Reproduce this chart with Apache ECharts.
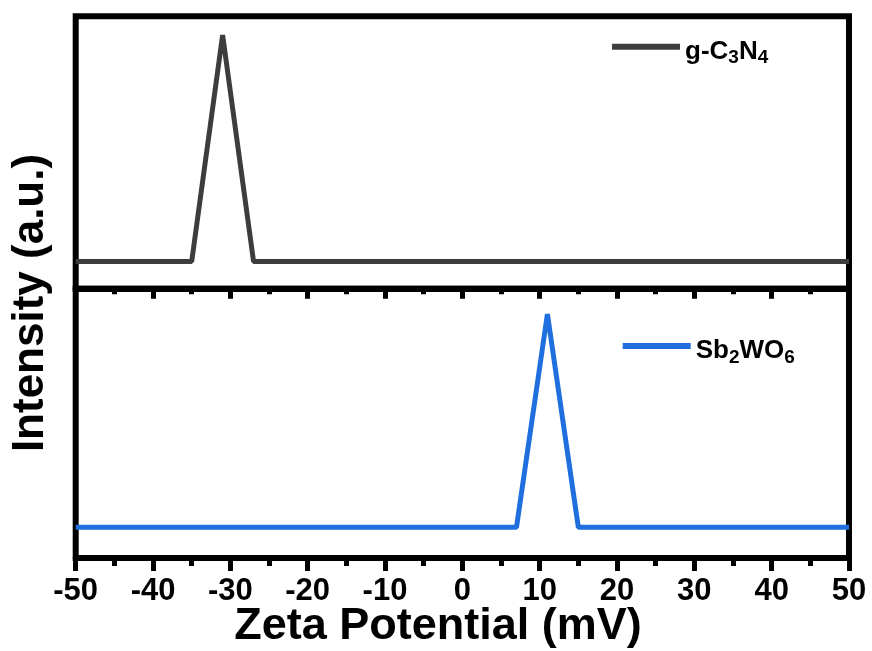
<!DOCTYPE html>
<html><head><meta charset="utf-8">
<script src="https://cdn.jsdelivr.net/npm/echarts@6/dist/echarts.min.js"></script>
<style>html,body{margin:0;padding:0;background:#fff}#c{width:872px;height:651px}</style>
</head><body><div id="c"></div>
<script>
// ---- data ----
const xTickLabels = [-50, -40, -30, -20, -10, 0, 10, 20, 30, 40, 50];
const seriesNames = ['g-C3N4', 'Sb2WO6'];
const gc3n4X = [-50, -35, -31, -27, 50];
const gc3n4Y = [0, 0, 1, 0, 0];
const sb2wo6X = [-50, 7, 11, 15, 50];
const sb2wo6Y = [0, 0, 1, 0, 0];
const xAxisTitle = 'Zeta Potential (mV)';
const yAxisTitle = 'Intensity (a.u.)';

const FONT = '"Liberation Sans", Arial, Helvetica, sans-serif';
const colors = ['#3d3d3d', '#1f6fdf'];

const gridL = 75.7, gridR = 23, top1 = 16.3, mid = 288.7, bot = 558;

function pairs(xs, ys) { return xs.map((x, i) => [x, ys[i]]); }
function subFmt(name) {
  return '{m|' + name.replace(/(\d)/g, '}{s|$1}{m|') + '}';
}
const rich = {
  m: { fontSize: 26, fontWeight: 'bold', fontFamily: FONT, color: '#000', verticalAlign: 'top', padding: [13, 0, 0, 0] },
  s: { fontSize: 19, fontWeight: 'bold', fontFamily: FONT, color: '#000', verticalAlign: 'top', padding: [23, 0, 0, 0] }
};

function xAxisCfg(gi, showLabel, tickLen, minorLen) {
  return {
    gridIndex: gi, type: 'value',
    min: xTickLabels[0], max: xTickLabels[xTickLabels.length - 1],
    interval: xTickLabels[1] - xTickLabels[0],
    axisLine: { show: true, onZero: false, lineStyle: { color: '#000', width: 6 } },
    axisTick: { show: true, inside: false, length: tickLen, lineStyle: { color: '#000', width: 5 } },
    minorTick: { show: true, splitNumber: 2, length: minorLen, lineStyle: { color: '#000', width: 5 } },
    axisLabel: { show: showLabel, fontSize: 31, fontWeight: 'bold', color: '#000', fontFamily: FONT, margin: 18 },
    splitLine: { show: false }, minorSplitLine: { show: false }
  };
}

const chart = echarts.init(document.getElementById('c'), null, { renderer: 'canvas' });
chart.setOption({
  backgroundColor: '#fff',
  animation: false,
  grid: [
    { left: gridL, right: gridR, top: top1, height: mid - top1, show: true, borderColor: '#000', borderWidth: 6 },
    { left: gridL, right: gridR, top: mid, height: bot - mid, show: true, borderColor: '#000', borderWidth: 6 }
  ],
  xAxis: [xAxisCfg(0, false, 10, 5.5), xAxisCfg(1, true, 13, 8)],
  yAxis: [
    { gridIndex: 0, type: 'value', min: -0.1201, max: 1.0826, show: false },
    { gridIndex: 1, type: 'value', min: -0.1439, max: 1.1186, show: false }
  ],
  legend: [
    { data: [seriesNames[0]], left: 612, top: 38.7, padding: 0, icon: 'rect', itemWidth: 68, itemHeight: 6, selectedMode: false,
      formatter: subFmt, textStyle: { rich: rich } },
    { data: [seriesNames[1]], left: 622.7, top: 338, padding: 0, icon: 'rect', itemWidth: 68, itemHeight: 6, selectedMode: false,
      formatter: subFmt, textStyle: { rich: rich } }
  ],
  series: [
    { name: seriesNames[0], type: 'line', xAxisIndex: 0, yAxisIndex: 0, data: pairs(gc3n4X, gc3n4Y),
      symbol: 'none', color: colors[0], lineStyle: { color: colors[0], width: 5, join: 'bevel' } },
    { name: seriesNames[1], type: 'line', xAxisIndex: 1, yAxisIndex: 1, data: pairs(sb2wo6X, sb2wo6Y),
      symbol: 'none', color: colors[1], lineStyle: { color: colors[1], width: 5, join: 'bevel' } }
  ],
  graphic: [
    { type: 'text', x: 31, y: 303, rotation: Math.PI / 2,
      style: { text: yAxisTitle, font: 'bold 44px ' + FONT, fill: '#000', align: 'center', verticalAlign: 'middle' } },
    { type: 'text', x: 438, y: 626.5,
      style: { text: xAxisTitle, font: 'bold 45px ' + FONT, fill: '#000', align: 'center', verticalAlign: 'middle' } }
  ]
});
</script>
</body></html>
